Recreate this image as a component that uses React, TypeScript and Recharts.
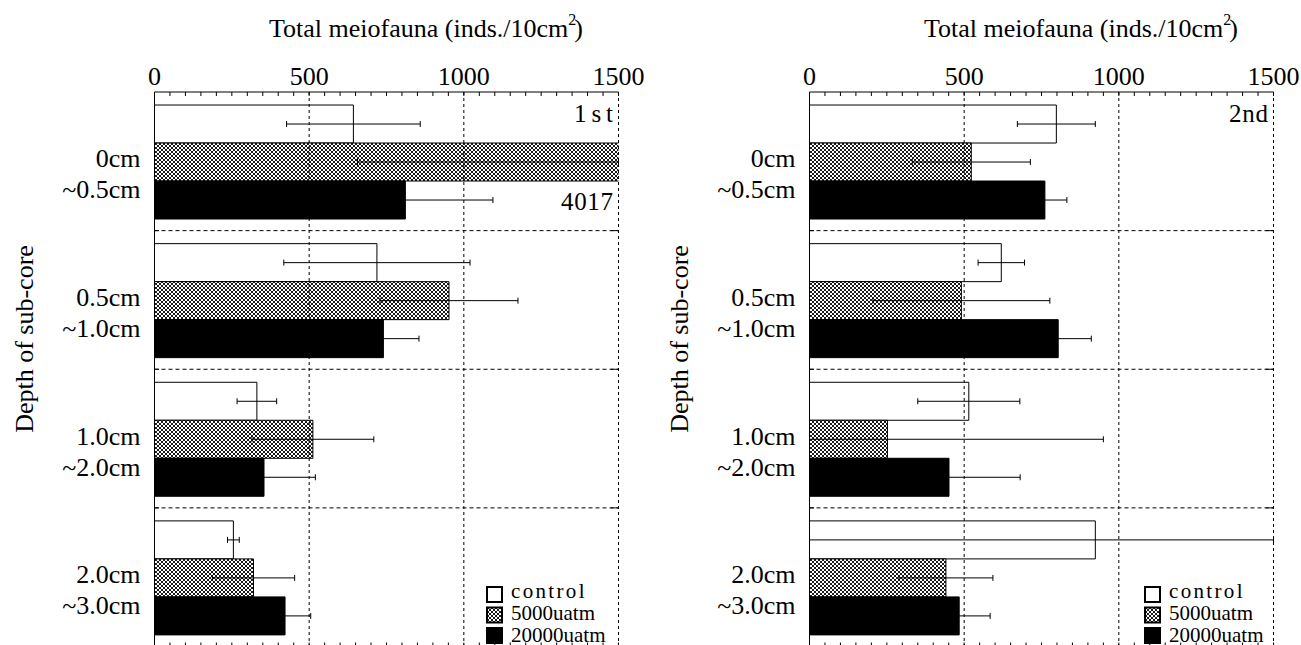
import React from 'react';
import { BarChart, Bar, XAxis, YAxis, ReferenceLine, ErrorBar, LabelList, Legend } from 'recharts';

// ---- categories / labels ----
const depthTop = ['0cm', '0.5cm', '1.0cm', '2.0cm'];
const depthBottom = ['~0.5cm', '~1.0cm', '~2.0cm', '~3.0cm'];
const seriesNames = ['control', '5000uatm', '20000uatm'];
const majorTicks = [0, 500, 1000, 1500];
const minorTicks = [0, 50, 100, 150, 200, 250, 300, 350, 400, 450, 500, 550, 600, 650, 700, 750, 800, 850, 900, 950, 1000, 1050, 1100, 1150, 1200, 1250, 1300, 1350, 1400, 1450, 1500];
const panelTags = ['1st', '2nd'];

// ---- 1st sampling ----
const control1 = [643, 719, 331, 255];
const controlErr1 = [216, 301, 64, 19];
const mid1 = [4017, 952, 512, 320];
const midErr1 = [3361, 223, 197, 133];
const high1 = [811, 740, 354, 422];
const highErr1 = [283, 115, 166, 83];

// ---- 2nd sampling ----
const control2 = [798, 620, 515, 924];
const controlErr2 = [126, 75, 165, 1050];
const mid2 = [523, 491, 252, 441];
const midErr2 = [191, 286, 698, 152];
const high2 = [761, 804, 451, 484];
const highErr2 = [71, 107, 230, 100];

const X_MIN = 0;
const X_MAX = 1500;
const SERIF = '"Liberation Serif", "Times New Roman", serif';
const MONO_W_LEGEND = 10.5;
const MONO_W_TAG = 13;

function buildRows(c: number[], ce: number[], m: number[], me: number[], h: number[], he: number[]) {
  return depthTop.map((t, i) => ({
    depth: t + depthBottom[i],
    control: c[i], controlErr: ce[i],
    mid: m[i], midErr: me[i],
    high: h[i], highErr: he[i],
  }));
}

const rows1 = buildRows(control1, controlErr1, mid1, midErr1, high1, highErr1);
const rows2 = buildRows(control2, controlErr2, mid2, midErr2, high2, highErr2);

// error bars are cut at the plot's edges, as in the original figure
const clippedErr = (valKey: string, errKey: string) => (d: any) => {
  const v = d[valKey];
  const e = d[errKey];
  return [Math.min(e, v - X_MIN), Math.min(e, X_MAX - v)];
};

const TopTick = (props: any) => {
  const { x, y, payload } = props;
  const v = payload.value;
  return (
    <g>
      <line x1={x} y1={y} x2={x} y2={y + 4} stroke="#000" strokeWidth={1} />
      {majorTicks.includes(v) && (
        <text x={x} y={y - 7} textAnchor="middle" fontFamily={SERIF} fontSize={26} fill="#000">{v}</text>
      )}
    </g>
  );
};

const BottomTick = (props: any) => {
  const { x, y } = props;
  return <line x1={x} y1={y} x2={x} y2={y - 4} stroke="#000" strokeWidth={1} />;
};

const DepthTick = (props: any) => {
  const { x, y, payload } = props;
  const i = depthTop.findIndex((t, k) => t + depthBottom[k] === payload.value);
  return (
    <g>
      <text x={x} y={y + 6} textAnchor="end" fontFamily={SERIF} fontSize={26} fill="#000">{depthTop[i]}</text>
      <text x={x} y={y + 37} textAnchor="end" fontFamily={SERIF} fontSize={26} fill="#000">{depthBottom[i]}</text>
    </g>
  );
};

const titleLabel = (props: any) => {
  const vb = props.viewBox;
  return (
    <text x={vb.x + vb.width / 2 + 39.5} y={vb.y - 15} textAnchor="middle" fontFamily={SERIF} fontSize={26} fill="#000">
      Total meiofauna (inds./10cm<tspan dy={-12} fontSize={16}>2</tspan><tspan dy={12} dx={-2}>)</tspan>
    </text>
  );
};

const yLabel = (props: any) => {
  const vb = props.viewBox;
  const cx = vb.x + 18.5;
  const cy = vb.y + 247;
  return (
    <text x={cx} y={cy} transform={`rotate(-90, ${cx}, ${cy})`} textAnchor="middle" fontFamily={SERIF} fontSize={26} fill="#000">
      Depth of sub-core
    </text>
  );
};

const makeTagLabel = (tag: string) => (props: any) => {
  const vb = props.viewBox;
  return (
    <text x={vb.x - 5.5} y={vb.y + 29.7} textAnchor="end" fontFamily={SERIF} fontSize={25} fill="#000"
      textLength={tag.length * MONO_W_TAG} lengthAdjust="spacing">{tag}</text>
  );
};

const overflowLabel = (props: any) => {
  const value = Number(props.value);
  if (!(value > X_MAX)) return null;
  const vb = props.viewBox && props.viewBox.width !== undefined ? props.viewBox : props;
  const right = vb.x + (vb.width * X_MAX) / value;
  const s = String(value);
  return (
    <text x={right - 5.5} y={vb.y + vb.height + 28.5} textAnchor="end" fontFamily={SERIF} fontSize={25} fill="#000"
      textLength={s.length * MONO_W_TAG} lengthAdjust="spacing">{s}</text>
  );
};

const swatchFills = ['#fff', 'url(#hatch)', '#000'];

const LegendBox = () => (
  <svg width={140} height={70} style={{ overflow: 'visible', display: 'block' }}>
    {seriesNames.map((n, i) => (
      <g key={n}>
        <rect x={1} y={5 + i * 20.5} width={15} height={15} fill={swatchFills[i]} stroke="#000" strokeWidth={2} />
        <text x={25} y={15.5 + i * 22} fontFamily={SERIF} fontSize={21} fill="#000"
          textLength={n.length * MONO_W_LEGEND} lengthAdjust="spacing">{n}</text>
      </g>
    ))}
  </svg>
);

function Panel({ rows, tag, left, legendLeft }: any) {
  return (
    <div style={{ position: 'absolute', left, top: 0 }}>
      <BarChart
        width={650}
        height={700}
        data={rows}
        layout="vertical"
        margin={{ top: 52, right: 31.5, bottom: 33.5, left: 14.5 }}
        barCategoryGap="9.4%"
        barGap={0}
      >
        <XAxis
          type="number"
          orientation="top"
          domain={[X_MIN, X_MAX]}
          ticks={minorTicks}
          interval={0}
          allowDataOverflow
          height={40}
          tickSize={0}
          tickMargin={0}
          tickLine={false}
          axisLine={{ stroke: '#000', strokeWidth: 1 }}
          tick={<TopTick />}
          label={titleLabel}
        />
        <XAxis
          xAxisId="bottom"
          type="number"
          orientation="bottom"
          domain={[X_MIN, X_MAX]}
          ticks={minorTicks}
          interval={0}
          allowDataOverflow
          height={20}
          tickSize={0}
          tickMargin={0}
          tickLine={false}
          axisLine={{ stroke: '#000', strokeWidth: 1 }}
          tick={<BottomTick />}
        />
        <YAxis
          type="category"
          dataKey="depth"
          width={140}
          interval={0}
          tickSize={0}
          tickMargin={14}
          tickLine={false}
          axisLine={{ stroke: '#000', strokeWidth: 1 }}
          tick={<DepthTick />}
          label={yLabel}
        />
        <ReferenceLine x={500} stroke="#000" strokeWidth={1} strokeDasharray="3 3" />
        <ReferenceLine x={1000} stroke="#000" strokeWidth={1} strokeDasharray="3 3" />
        <ReferenceLine x={1500} stroke="#000" strokeWidth={1} strokeDasharray="3 3" label={makeTagLabel(tag)} />
        {rows.slice(1).map((r: any) => (
          <ReferenceLine key={'h' + r.depth} y={r.depth} position="start" stroke="#000" strokeWidth={1} strokeDasharray="4 3" />
        ))}
        {rows.slice(1).map((r: any) => (
          <ReferenceLine key={'l' + r.depth} segment={[{ x: 0, y: r.depth }, { x: 15, y: r.depth }]} position="start" stroke="#000" strokeWidth={1} />
        ))}
        {rows.slice(1).map((r: any) => (
          <ReferenceLine key={'r' + r.depth} segment={[{ x: 1475, y: r.depth }, { x: 1500, y: r.depth }]} position="start" stroke="#000" strokeWidth={1} />
        ))}
        <Bar dataKey="control" name={seriesNames[0]} fill="#fff" stroke="#000" strokeWidth={1} isAnimationActive={false}>
          <ErrorBar dataKey={clippedErr('control', 'controlErr')} direction="x" width={3} stroke="#000" strokeWidth={1} />
        </Bar>
        <Bar dataKey="mid" name={seriesNames[1]} fill="url(#hatch)" stroke="#000" strokeWidth={1} isAnimationActive={false}>
          <ErrorBar dataKey={clippedErr('mid', 'midErr')} direction="x" width={3} stroke="#000" strokeWidth={1} />
          <LabelList dataKey="mid" content={overflowLabel} />
        </Bar>
        <Bar dataKey="high" name={seriesNames[2]} fill="#000" stroke="#000" strokeWidth={1} isAnimationActive={false}>
          <ErrorBar dataKey={clippedErr('high', 'highErr')} direction="x" width={3} stroke="#000" strokeWidth={1} />
        </Bar>
        <Legend
          layout="vertical"
          align="center"
          verticalAlign="middle"
          wrapperStyle={{ left: legendLeft, top: 582, width: 140, height: 70 }}
          content={() => <LegendBox />}
        />
      </BarChart>
    </div>
  );
}

export default function App() {
  return (
    <div style={{ position: 'absolute', left: 0, top: 0, width: 1301, height: 645, overflow: 'hidden', background: '#fff' }}>
      <svg width={0} height={0} style={{ position: 'absolute' }}>
        <defs>
          <pattern id="hatch" width={4} height={4} patternUnits="userSpaceOnUse">
            <rect x={0} y={0} width={4} height={4} fill="#fff" />
            <path d="M0,0 L4,4 M4,0 L0,4" stroke="#000" strokeWidth={0.9} />
          </pattern>
        </defs>
      </svg>
      <Panel rows={rows1} tag={panelTags[0]} left={0} legendLeft={486} />
      <Panel rows={rows2} tag={panelTags[1]} left={655} legendLeft={489} />
    </div>
  );
}
